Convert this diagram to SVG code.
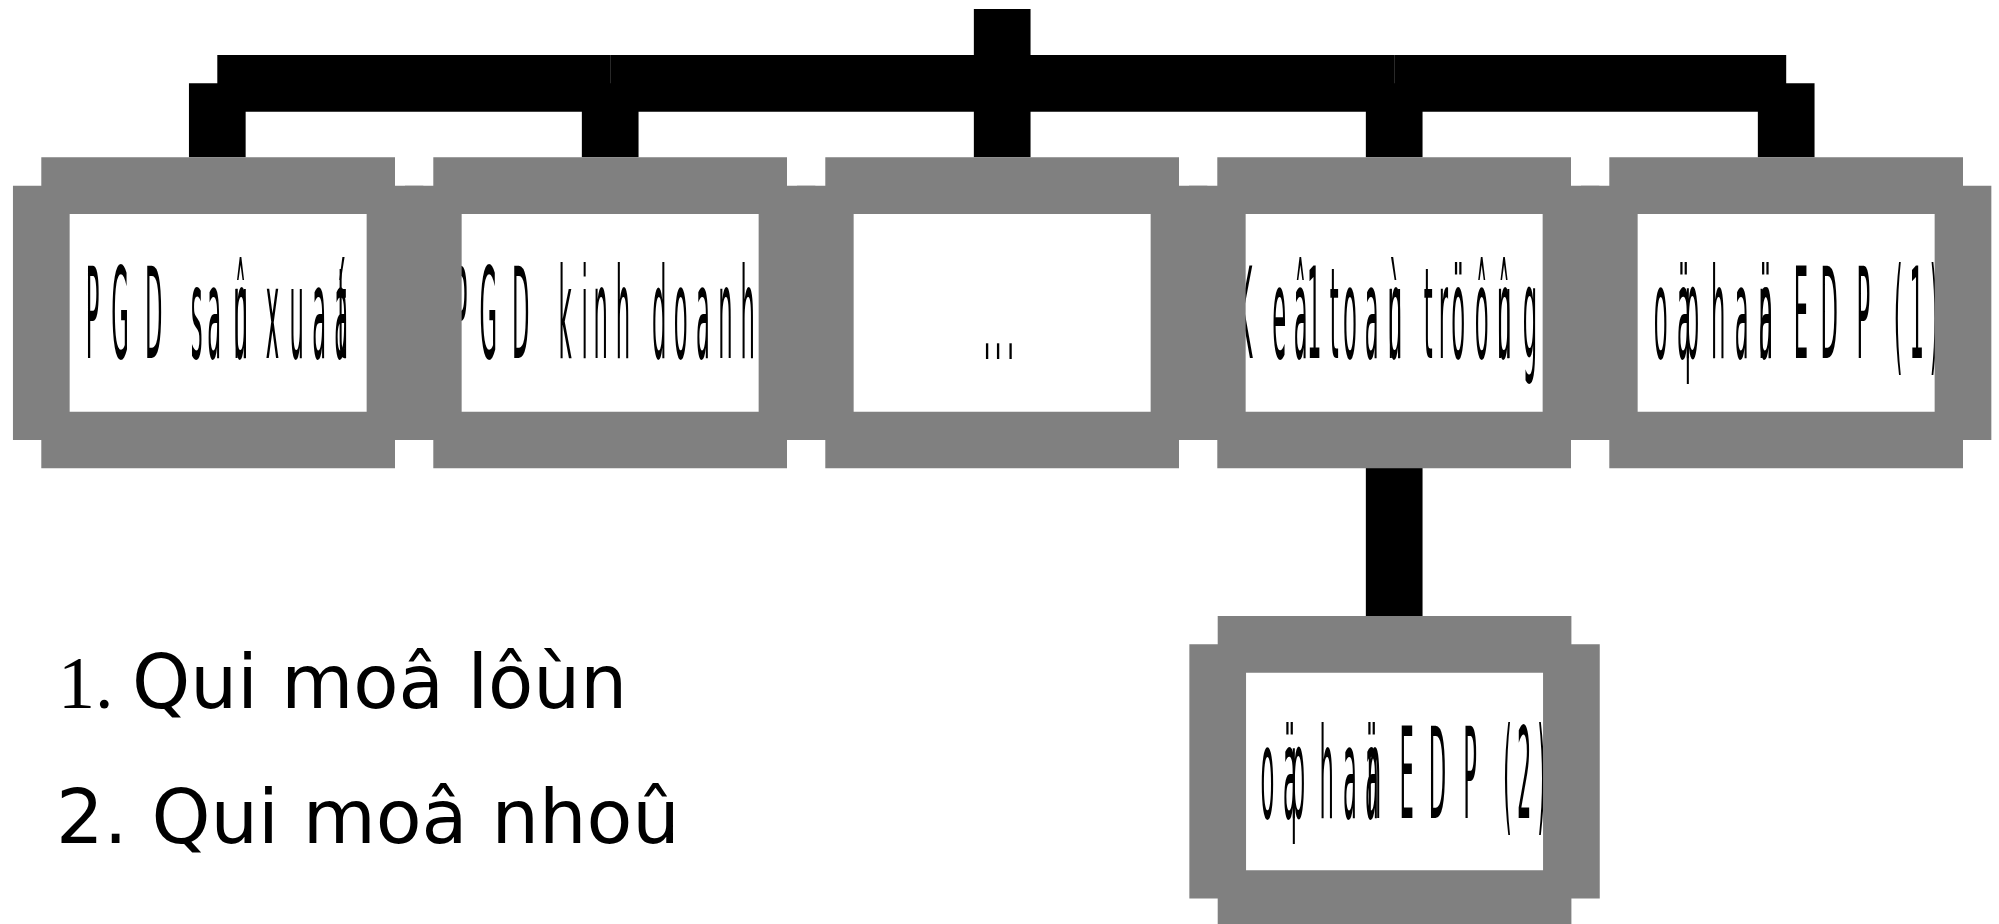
<svg xmlns="http://www.w3.org/2000/svg" width="1999" height="924" viewBox="0 0 1999 924">
<style>
.conn{stroke:#000;stroke-width:56.7;stroke-linecap:butt;fill:none}
.fill{fill:#fff}
.brd{stroke:#808080;stroke-width:56.7;stroke-linecap:butt;fill:none}
.lbl{font-family:"DejaVu Sans",sans-serif;font-size:126px;fill:#000;text-anchor:middle}
.leg{font-family:"DejaVu Sans",sans-serif;fill:#000}
</style>
<rect width="1999" height="924" fill="#fff"/>
<g id="connectors">
<path class="conn" d="M1002.2 9V157.3"/>
<path class="conn" d="M1002.2 83.3H610.2"/>
<path class="conn" d="M610.2 83.3H217.3"/>
<path class="conn" d="M1002.2 83.3H1394.2"/>
<path class="conn" d="M1394.2 83.3H1786.2"/>
<path class="conn" d="M217.3 83.3V157.3"/>
<path class="conn" d="M610.2 83.3V157.3"/>
<path class="conn" d="M1394.2 83.3V157.3"/>
<path class="conn" d="M1786.2 83.3V157.3"/>
<path class="conn" d="M1394.2 440V644.3"/>
</g>
<g id="n1">
<rect class="fill" x="41.3" y="185.7" width="353.7" height="254.3"/>
<text class="lbl" transform="scale(0.18,1)" y="358.3" x="513.9 666.7 853.9 955.6 1092.8 1190 1337.8 1337.8 1416.7 1513.9 1648.3 1773.3 1896.1 1900">PGD saûn xuaát</text>
<path class="brd" d="M41.3 185.7H395M395 185.7V440M395 440H41.3M41.3 440V185.7"/>
</g>
<g id="n2">
<rect class="fill" x="433.3" y="185.7" width="353.7" height="254.3"/>
<text class="lbl" transform="scale(0.18,1)" y="358.3" x="2559.4 2712.8 2893.3 3000 3138.9 3248.3 3337.8 3461.1 3555.6 3662.2 3782.2 3905.6 4030.6 4154.4">PGD kinh doanh</text>
<path class="brd" d="M433.3 185.7H787M787 185.7V440M787 440H433.3M433.3 440V185.7"/>
</g>
<g id="n3">
<rect class="fill" x="825.3" y="185.7" width="353.7" height="254.3"/>
<text class="lbl" transform="scale(0.18,1)" y="359" x="5483.3 5544.4 5615">...</text>
<path class="brd" d="M825.3 185.7H1179M1179 185.7V440M1179 440H825.3M825.3 440V185.7"/>
</g>
<g id="n4">
<rect class="fill" x="1217.3" y="185.7" width="353.7" height="254.3"/>
<text class="lbl" transform="scale(0.18,1)" y="358.3" x="6916.7 7106.7 7226.7 7301.1 7412.2 7500 7620.6 7750 7750 7844.4 7935 8018.3 8101.7 8231.7 8356.7 8356.7 8500">Keâ1toaùn tröôûng</text>
<path class="brd" d="M1217.3 185.7H1571M1571 185.7V440M1571 440H1217.3M1217.3 440V185.7"/>
</g>
<g id="n5">
<rect class="fill" x="1609.3" y="185.7" width="353.7" height="254.3"/>
<text class="lbl" transform="scale(0.18,1)" y="358.3" x="9027.8 9226.7 9355.6 9377.8 9400 9546.1 9676.1 9810 9810 9905.6 10004.4 10162.2 10351.7 10444.4 10546.1 10648.3 10745.6">Boä phaän EDP (1)</text>
<path class="brd" d="M1609.3 185.7H1963M1963 185.7V440M1963 440H1609.3M1609.3 440V185.7"/>
</g>
<g id="n6">
<rect class="fill" x="1217.7" y="644.3" width="353.7" height="254.3"/>
<text class="lbl" transform="scale(0.18,1)" y="818" x="6861.1 7041.7 7166.7 7183.3 7211.1 7370.6 7500 7622.2 7633.3 7722.2 7815 7986.1 8166.7 8277.8 8375 8467.8 8565">Boä phaän EDP (2)</text>
<path class="brd" d="M1217.7 644.3H1571.4M1571.4 644.3V898.6M1571.4 898.6H1217.7M1217.7 898.6V644.3"/>
</g>
<g id="legend">
<text class="leg" x="58" y="708" font-size="74"><tspan font-family="'Liberation Serif',serif">1. </tspan>Qui moâ lôùn</text>
<text class="leg" x="56" y="843" font-size="75">2. Qui moâ nhoû</text>
</g>
</svg>
